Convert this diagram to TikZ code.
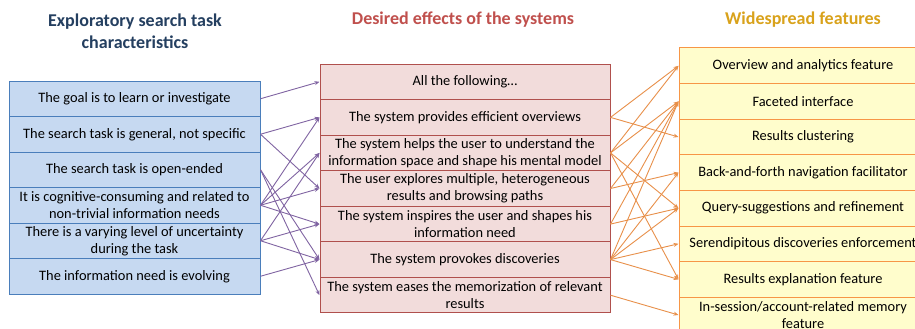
\documentclass[tikz,border=0pt]{standalone}
\usepackage{fontspec}
\setmainfont{Carlito}
\usetikzlibrary{arrows.meta}
\definecolor{lfill}{HTML}{C6D9F1}
\definecolor{ldraw}{HTML}{4A7EBB}
\definecolor{mfill}{HTML}{F2DCDB}
\definecolor{mdraw}{HTML}{B0504D}
\definecolor{rfill}{HTML}{FFFDCC}
\definecolor{rdraw}{HTML}{F79646}
\definecolor{ltitle}{HTML}{243F60}
\definecolor{mtitle}{HTML}{C0504D}
\definecolor{rtitle}{HTML}{D9A21B}
\definecolor{parrow}{HTML}{8064A2}
\definecolor{oarrow}{HTML}{E8904A}
\begin{document}
\begin{tikzpicture}[x=1pt,y=-1pt,
  cell/.style={rectangle, inner sep=0pt, align=center, font=\fontsize{14.4}{17}\selectfont, line width=1pt},
  lcell/.style={cell, fill=lfill, draw=ldraw, minimum width=251pt, minimum height=35.5pt},
  mcell/.style={cell, fill=mfill, draw=mdraw, minimum width=290pt, minimum height=35.57pt},
  rcell/.style={cell, fill=rfill, draw=rdraw, minimum width=248pt, minimum height=35.6pt},
  ttl/.style={font=\fontsize{18}{22}\selectfont\bfseries, align=center, inner sep=0pt},
  parr/.style={draw=parrow, line width=0.9pt, -{Stealth[length=5pt,width=4pt]}},
  oarr/.style={draw=oarrow, line width=0.9pt, -{Stealth[length=5pt,width=4pt]}}]
\clip (0,0) rectangle (915,329);
\fill[white] (0,0) rectangle (915,329);
% titles
\node[ttl, text=ltitle] (t1) at (135,31) {Exploratory search task\\characteristics};
\node[ttl, text=mtitle] (t2) at (463,20) {Desired effects of the systems};
\node[ttl, text=rtitle] (t3) at (803,20) {Widespread features};
% left column
\node[lcell] (L1) at (134.5,98.75) {The goal is to learn or investigate};
\node[lcell] (L2) at (134.5,134.25) {The search task is general, not specific};
\node[lcell] (L3) at (134.5,169.75) {The search task is open-ended};
\node[lcell] (L4) at (134.5,205.25) {It is cognitive-consuming and related to\\non-trivial information needs};
\node[lcell] (L5) at (134.5,240.75) {There is a varying level of uncertainty\\during the task};
\node[lcell] (L6) at (134.5,276.25) {The information need is evolving};
% middle column
\node[mcell] (M1) at (465,81.8) {All the following\ldots};
\node[mcell] (M2) at (465,117.4) {The system provides efficient overviews};
\node[mcell] (M3) at (465,152.9) {The system helps the user to understand the\\information space and shape his mental model};
\node[mcell] (M4) at (465,188.5) {The user explores multiple, heterogeneous\\results and browsing paths};
\node[mcell] (M5) at (465,224.1) {The system inspires the user and shapes his\\information need};
\node[mcell] (M6) at (465,259.6) {The system provokes discoveries};
\node[mcell] (M7) at (465,295.2) {The system eases the memorization of relevant\\results};
% right column
\node[rcell] (R1) at (803,65.8) {Overview and analytics feature};
\node[rcell] (R2) at (803,101.4) {Faceted interface};
\node[rcell] (R3) at (803,137) {Results clustering};
\node[rcell] (R4) at (803,172.6) {Back-and-forth navigation facilitator};
\node[rcell] (R5) at (803,208.2) {Query-suggestions and refinement};
\node[rcell] (R6) at (803,243.8) {Serendipitous discoveries enforcement};
\node[rcell] (R7) at (803,279.4) {Results explanation feature};
\node[rcell] (R8) at (803,315) {In-session/account-related memory\\feature};
% left -> middle
\foreach \a/\b in {L1/M1, L2/M2, L2/M4, L3/M6, L3/M7, L4/M2, L4/M3, L4/M4, L4/M5, L5/M3, L5/M5, L5/M6, L6/M6}
  \draw[parr] (\a.east) -- (\b.west);
% middle -> right
\foreach \a/\b in {M2/R1, M2/R3, M3/R1, M3/R2, M3/R5, M3/R7, M4/R2, M4/R4, M5/R2, M5/R5, M6/R2, M6/R4, M6/R5, M6/R6, M6/R7, M7/R8}
  \draw[oarr] (\a.east) -- (\b.west);
\end{tikzpicture}
\end{document}
